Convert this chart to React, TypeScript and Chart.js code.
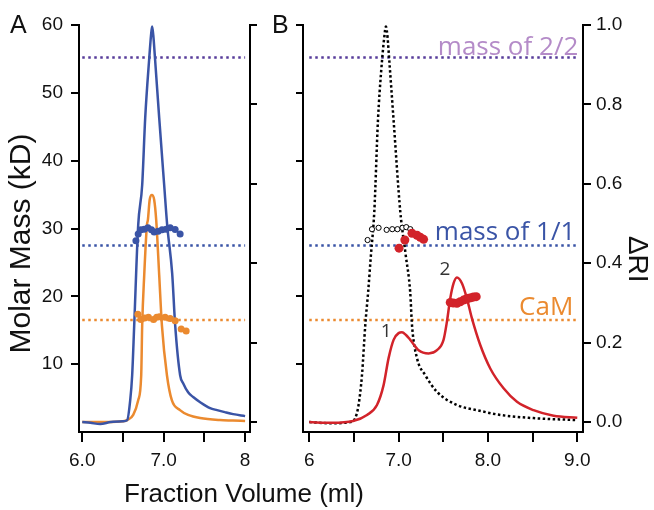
import React, { useEffect, useRef } from "react";
import { Chart, registerables } from "chart.js";
Chart.register(...registerables);

// ---------- Panel A data ----------
const aBlueVol = [6.0, 6.1, 6.22, 6.35, 6.5, 6.552, 6.589, 6.613, 6.638, 6.687, 6.736, 6.773, 6.824, 6.845, 6.858, 6.872, 6.892, 6.945, 7.006, 7.043, 7.104, 7.141, 7.202, 7.239, 7.3, 7.362, 7.448, 7.57, 7.656, 7.75, 7.853, 8.0];
const aBlueRi = [0.0, -0.002, -0.005, 0.0, 0.002, 0.005, 0.055, 0.118, 0.244, 0.496, 0.597, 0.766, 0.92, 0.975, 0.996, 0.975, 0.92, 0.766, 0.597, 0.496, 0.375, 0.244, 0.118, 0.098, 0.075, 0.063, 0.05, 0.035, 0.03, 0.025, 0.02, 0.015];

const aOrangeVol = [6.0, 6.15, 6.3, 6.5, 6.552, 6.626, 6.687, 6.724, 6.736, 6.761, 6.794, 6.806, 6.828, 6.855, 6.883, 6.908, 6.945, 6.978, 7.04, 7.1, 7.2, 7.3, 7.448, 7.69, 7.85, 8.0];
const aOrangeRi = [0.0, 0.0, 0.0, 0.002, 0.005, 0.018, 0.055, 0.118, 0.244, 0.37, 0.496, 0.509, 0.56, 0.572, 0.56, 0.509, 0.37, 0.244, 0.118, 0.055, 0.03, 0.018, 0.01, 0.005, 0.004, 0.003];

const aBlueDotVol = [6.659, 6.687, 6.72, 6.761, 6.806, 6.85, 6.883, 6.932, 6.98, 7.03, 7.08, 7.141, 7.202];
const aBlueDotMass = [28.2, 29.2, 29.8, 29.9, 30.1, 29.8, 29.5, 29.6, 29.8, 29.9, 30.1, 29.85, 29.2];

const aOrangeDotVol = [6.683, 6.72, 6.767, 6.813, 6.875, 6.914, 6.948, 7.018, 7.08, 7.141, 7.215, 7.276];
const aOrangeDotMass = [17.35, 16.6, 16.8, 16.9, 16.6, 16.9, 17.0, 16.9, 16.75, 16.4, 15.2, 14.9];

// ---------- Panel B data ----------
const bBlackVol = [6.0, 6.235, 6.46, 6.515, 6.552, 6.59, 6.627, 6.66, 6.69, 6.728, 6.769, 6.806, 6.84, 6.858, 6.876, 6.896, 6.944, 7.019, 7.08, 7.13, 7.15, 7.206, 7.299, 7.43, 7.653, 7.877, 8.138, 8.508, 9.0];
const bBlackRi = [0.0, -0.003, 0.0, 0.01, 0.043, 0.118, 0.244, 0.33, 0.42, 0.53, 0.76, 0.887, 0.97, 0.996, 0.97, 0.91, 0.76, 0.53, 0.42, 0.327, 0.244, 0.161, 0.118, 0.076, 0.043, 0.03, 0.018, 0.01, 0.005];

const bRedVol = [6.0, 6.25, 6.49, 6.646, 6.758, 6.832, 6.888, 6.944, 7.0, 7.038, 7.08, 7.131, 7.224, 7.336, 7.43, 7.503, 7.541, 7.578, 7.615, 7.653, 7.71, 7.765, 7.821, 7.914, 8.026, 8.175, 8.325, 8.51, 8.735, 9.0];
const bRedRi = [0.0, -0.002, 0.0025, 0.018, 0.043, 0.093, 0.161, 0.207, 0.224, 0.226, 0.22, 0.207, 0.181, 0.173, 0.181, 0.207, 0.253, 0.311, 0.349, 0.364, 0.349, 0.311, 0.261, 0.194, 0.135, 0.085, 0.051, 0.03, 0.016, 0.011];

const bOpenVol = [6.653, 6.702, 6.776, 6.866, 6.929, 6.987, 7.043, 7.086, 7.131];
const bOpenMass = [28.3, 29.9, 30.1, 29.8, 29.9, 29.9, 30.1, 30.2, 29.9];

const bRedDot1Vol = [7.005, 7.07, 7.15, 7.206, 7.243, 7.28];
const bRedDot1Mass = [27.1, 28.3, 29.3, 29.0, 28.7, 28.4];

const bRedDot2Vol = [7.578, 7.612, 7.653, 7.69, 7.727, 7.757, 7.783, 7.813, 7.838, 7.869];
const bRedDot2Mass = [19.1, 19.0, 18.97, 19.2, 19.45, 19.6, 19.7, 19.8, 19.9, 19.95];

// reference masses (kD): mass of 2/2, mass of 1/1, CaM
const refMass = [55.2, 27.5, 16.5];
const refLabels = ["mass of 2/2", "mass of 1/1", "CaM"];
const peakLabels = ["1", "2"];
const peakLabelVol = [6.86, 7.52];
const peakLabelRi = [0.227, 0.383];

// ticks
const aXTicks = [6.0, 6.5, 7.0, 7.5, 8.0];
const aXLabels = ["6.0", "", "7.0", "", "8"];
const bXTicks = [6.0, 6.5, 7.0, 7.5, 8.0, 8.5, 9.0];
const bXLabels = ["6", "", "7.0", "", "8.0", "", "9.0"];
const massTicks = [10, 20, 30, 40, 50, 60];
const massLabels = ["10", "20", "30", "40", "50", "60"];
const riTicks = [0.0, 0.2, 0.4, 0.6, 0.8, 1.0];
const riLabels = ["0.0", "0.2", "0.4", "0.6", "0.8", "1.0"];

const X_TITLE = "Fraction Volume (ml)";
const MASS_TITLE = "Molar Mass (kD)";
const RI_TITLE = "ΔRI";

const BLUE = "#3a54a6";
const ORANGE = "#eb8a2f";
const RED = "#d2232a";
const PURPLE = "#573c9a";
const LAVENDER = "#b48bc8";
const INK = "#111111";

const SANS = "'Liberation Sans', Arial, sans-serif";
const HUMAN = "'Open Sans', 'Noto Sans', sans-serif";

const W = 654;
const H = 510;

function pts(xs: number[], ys: number[]) {
  return xs.map((x, i) => ({ x, y: ys[i] }));
}

function curve(xs: number[], ys: number[], color: string, extra: any = {}) {
  return {
    data: pts(xs, ys),
    xAxisID: "x",
    yAxisID: "yR",
    showLine: true,
    borderColor: color,
    borderWidth: 2.5,
    pointRadius: 0,
    cubicInterpolationMode: "monotone",
    fill: false,
    ...extra,
  };
}

function dots(xs: number[], ys: number[], color: string, r: number, extra: any = {}) {
  return {
    data: pts(xs, ys),
    xAxisID: "x",
    yAxisID: "yM",
    showLine: false,
    pointRadius: r,
    pointBackgroundColor: color,
    pointBorderColor: color,
    pointBorderWidth: 0,
    ...extra,
  };
}

function refLine(x0: number, x1: number, y: number, color: string) {
  return {
    data: [{ x: x0, y }, { x: x1, y }],
    xAxisID: "x",
    yAxisID: "yM",
    showLine: true,
    borderColor: color,
    borderWidth: 2.5,
    borderDash: [2.5, 3.5],
    pointRadius: 0,
    fill: false,
  };
}

function scale(o: {
  position: string;
  min: number;
  max: number;
  ticks: number[];
  labels: string[];
  width?: number;
  height?: number;
  tickLength: number;
  pad: number;
}) {
  return {
    type: "linear",
    position: o.position,
    min: o.min,
    max: o.max,
    afterBuildTicks: (s: any) => {
      s.ticks = o.ticks.map((v) => ({ value: v }));
    },
    afterFit: (s: any) => {
      if (o.width != null) s.width = o.width;
      if (o.height != null) s.height = o.height;
    },
    ticks: {
      autoSkip: false,
      maxRotation: 0,
      minRotation: 0,
      padding: o.pad,
      color: INK,
      font: { family: SANS, size: 19 },
      callback: (_v: any, i: number) => o.labels[i] ?? "",
    },
    grid: {
      display: true,
      drawOnChartArea: false,
      drawTicks: true,
      tickLength: o.tickLength,
      color: "#000",
      lineWidth: 2,
    },
    border: { display: true, color: "#000", width: 2 },
    title: { display: false },
  };
}

const textA = {
  id: "textA",
  afterDraw(chart: any) {
    const { ctx, chartArea } = chart;
    ctx.save();
    ctx.fillStyle = INK;
    ctx.font = `25px ${SANS}`;
    ctx.textAlign = "left";
    ctx.textBaseline = "middle";
    ctx.fillText("A", chartArea.left - 69, chartArea.top + 1);

    // x title (shared by both panels)
    ctx.font = `26px ${SANS}`;
    ctx.textAlign = "center";
    ctx.textBaseline = "alphabetic";
    ctx.fillText(X_TITLE, chartArea.right - 6, chart.height - 8);

    // y title
    const midY = (chartArea.top + chartArea.bottom) / 2 + 15;
    ctx.translate(chartArea.left - 57, midY);
    ctx.rotate(-Math.PI / 2);
    ctx.font = `30px ${SANS}`;
    ctx.textBaseline = "middle";
    ctx.fillText(MASS_TITLE, 0, 0);
    ctx.restore();
  },
};

const textB = {
  id: "textB",
  afterDraw(chart: any) {
    const { ctx, chartArea, scales } = chart;
    const xs = scales.x;
    const ym = scales.yM;
    const yr = scales.yR;
    ctx.save();
    ctx.fillStyle = INK;
    ctx.font = `25px ${SANS}`;
    ctx.textAlign = "left";
    ctx.textBaseline = "middle";
    ctx.fillText("B", chartArea.left - 31, chartArea.top + 1);

    const colors = [LAVENDER, BLUE, ORANGE];
    const dx = [1, -2, -4];
    const dy = [3, 5, 5];
    ctx.font = `26px ${HUMAN}`;
    ctx.textAlign = "right";
    ctx.textBaseline = "alphabetic";
    refLabels.forEach((t, i) => {
      ctx.fillStyle = colors[i];
      ctx.fillText(t, xs.getPixelForValue(9.0) + dx[i], ym.getPixelForValue(refMass[i]) - dy[i]);
    });

    ctx.fillStyle = "#333";
    ctx.font = `19px ${HUMAN}`;
    ctx.textAlign = "center";
    ctx.textBaseline = "middle";
    peakLabels.forEach((t, i) => {
      ctx.fillText(t, xs.getPixelForValue(peakLabelVol[i]), yr.getPixelForValue(peakLabelRi[i]));
    });

    // right axis title, rotated clockwise
    ctx.fillStyle = INK;
    ctx.translate(chartArea.right + 54, yr.getPixelForValue(0.41));
    ctx.rotate(Math.PI / 2);
    ctx.font = `28px ${SANS}`;
    ctx.textAlign = "center";
    ctx.textBaseline = "middle";
    ctx.fillText(RI_TITLE, 0, 0);
    ctx.restore();
  },
};

export default function App() {
  const refA = useRef<HTMLCanvasElement>(null);
  const refB = useRef<HTMLCanvasElement>(null);

  useEffect(() => {
    const common = {
      animation: false,
      responsive: false,
      maintainAspectRatio: false,
      plugins: { legend: { display: false }, tooltip: { enabled: false } },
    };

    const chartA = new Chart(refA.current as HTMLCanvasElement, {
      type: "scatter",
      data: {
        datasets: [
          dots(aBlueDotVol, aBlueDotMass, BLUE, 3.5),
          dots(aOrangeDotVol, aOrangeDotMass, ORANGE, 3.5),
          curve(aBlueVol, aBlueRi, BLUE),
          curve(aOrangeVol, aOrangeRi, ORANGE),
          refLine(6.0, 8.0, refMass[0], PURPLE),
          refLine(6.0, 8.0, refMass[1], BLUE),
          refLine(6.0, 8.0, refMass[2], ORANGE),
        ] as any,
      },
      options: {
        ...common,
        layout: { padding: { left: 7, top: 25, right: W - 250 - 10, bottom: 0 } },
        scales: {
          x: scale({ position: "bottom", min: 5.96, max: 8.06, ticks: aXTicks, labels: aXLabels, height: 78, tickLength: 10, pad: 7 }),
          yM: scale({ position: "left", min: 0, max: 60, ticks: massTicks, labels: massLabels, width: 72, tickLength: 8, pad: 8 }),
          yR: scale({ position: "right", min: -0.025, max: 1.0, ticks: riTicks, labels: riTicks.map(() => ""), width: 10, tickLength: 7, pad: 0 }),
        } as any,
      } as any,
      plugins: [textA],
    });

    const chartB = new Chart(refB.current as HTMLCanvasElement, {
      type: "scatter",
      data: {
        datasets: [
          dots(bRedDot1Vol, bRedDot1Mass, RED, 4.5),
          dots(bRedDot2Vol, bRedDot2Mass, RED, 4.5),
          dots(bOpenVol, bOpenMass, "#ffffff", 2.6, { pointBorderColor: "#000", pointBorderWidth: 1 }),
          curve(bRedVol, bRedRi, RED),
          curve(bBlackVol, bBlackRi, "#000", { borderDash: [2.5, 2.5], borderWidth: 2.5 }),
          refLine(6.0, 9.0, refMass[0], PURPLE),
          refLine(6.0, 9.0, refMass[1], BLUE),
          refLine(6.0, 9.0, refMass[2], ORANGE),
        ] as any,
      },
      options: {
        ...common,
        layout: { padding: { left: 303 - 10, top: 25, right: 2, bottom: 0 } },
        scales: {
          x: scale({ position: "bottom", min: 5.93, max: 9.064, ticks: bXTicks, labels: bXLabels, height: 78, tickLength: 10, pad: 7 }),
          yM: scale({ position: "left", min: 0, max: 60, ticks: massTicks, labels: massTicks.map(() => ""), width: 10, tickLength: 7, pad: 0 }),
          yR: scale({ position: "right", min: -0.025, max: 1.0, ticks: riTicks, labels: riLabels, width: 69, tickLength: 8, pad: 5 }),
        } as any,
      } as any,
      plugins: [textB],
    });

    return () => {
      chartA.destroy();
      chartB.destroy();
    };
  }, []);

  const cs: React.CSSProperties = { position: "absolute", left: 0, top: 0, width: W, height: H, display: "block" };
  return (
    <div style={{ position: "absolute", left: 0, top: 0, width: W, height: H, background: "#fff" }}>
      <canvas ref={refA} width={W} height={H} style={cs} />
      <canvas ref={refB} width={W} height={H} style={cs} />
    </div>
  );
}
